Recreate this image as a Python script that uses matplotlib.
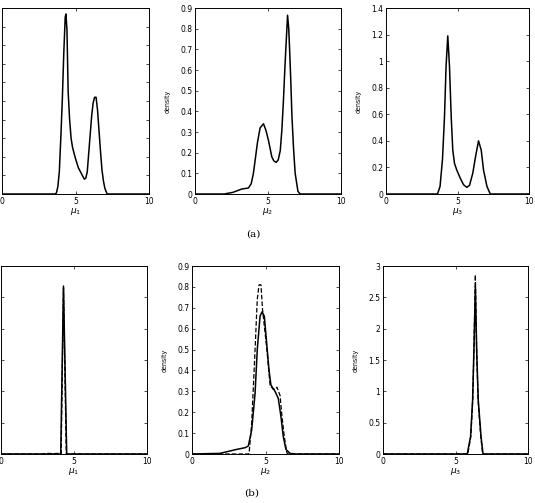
import numpy as np
import matplotlib
matplotlib.use("Agg")
import matplotlib.pyplot as plt

# (a) posterior densities
mu1_a_x = [0, 3.6, 3.7, 3.8, 3.9, 4.0, 4.1, 4.2, 4.3, 4.35, 4.42, 4.5, 4.6, 4.7, 4.8, 5.0, 5.2,
           5.4, 5.6, 5.7, 5.8, 5.9, 6.0, 6.1, 6.2, 6.3, 6.4, 6.5, 6.6, 6.7, 6.8, 6.9, 7.0, 7.15, 10]
mu1_a_y = [0, 0, 0.005, 0.04, 0.12, 0.3, 0.5, 0.75, 0.95, 0.968, 0.88, 0.55, 0.4, 0.3, 0.25, 0.19, 0.14,
           0.11, 0.08, 0.085, 0.12, 0.22, 0.32, 0.42, 0.49, 0.52, 0.52, 0.45, 0.34, 0.23, 0.13, 0.07, 0.03, 0, 0]

mu2_a_x = [0, 2.0, 2.6, 3.2, 3.66, 3.85, 4.0, 4.15, 4.28, 4.46, 4.69, 4.85, 5.03, 5.26, 5.4, 5.56, 5.7,
           5.84, 5.95, 6.06, 6.15, 6.22, 6.34, 6.42, 6.48, 6.56, 6.64, 6.75, 6.86, 7.05, 7.2, 10]
mu2_a_y = [0, 0, 0.008, 0.024, 0.029, 0.05, 0.10, 0.18, 0.25, 0.32, 0.34, 0.31, 0.26, 0.18, 0.16, 0.153, 0.165,
           0.21, 0.31, 0.456, 0.6, 0.70, 0.865, 0.8, 0.70, 0.55, 0.376, 0.22, 0.10, 0.013, 0, 0]

mu3_a_x = [0, 3.6, 3.78, 3.95, 4.09, 4.2, 4.32, 4.44, 4.56, 4.67, 4.79, 4.95, 5.19, 5.42, 5.65, 5.84,
           6.07, 6.26, 6.47, 6.66, 6.82, 7.06, 7.29, 10]
mu3_a_y = [0, 0, 0.057, 0.26, 0.58, 0.96, 1.19, 0.96, 0.58, 0.33, 0.23, 0.18, 0.12, 0.07, 0.05, 0.065,
           0.157, 0.28, 0.40, 0.33, 0.18, 0.057, 0, 0]

# (b) solid and dashed estimates
mu1_b_x = [0, 4.09, 4.28, 4.5, 10]
mu1_b_y = [0, 0, 5.36, 0, 0]
mu1_b_dx = [0, 2.8, 3.2, 3.6, 3.9, 4.12, 4.28, 4.47, 10]
mu1_b_dy = [0, 0, 0.02, 0.01, 0.02, 0, 5.3, 0, 0]

mu2_b_x = [0, 1.9, 3.04, 3.6, 3.83, 4.06, 4.29, 4.44, 4.63, 4.76, 4.92, 5.08, 5.24, 5.37, 5.65, 5.87,
           6.05, 6.21, 6.39, 6.67, 7.0, 10]
mu2_b_y = [0, 0.003, 0.022, 0.03, 0.038, 0.115, 0.29, 0.50, 0.66, 0.68, 0.66, 0.53, 0.40, 0.33, 0.30, 0.266,
           0.18, 0.083, 0.022, 0.003, 0, 0]
mu2_b_dx = [0, 3.88, 4.06, 4.29, 4.44, 4.56, 4.69, 4.8, 5.08, 5.31, 5.52, 5.69, 5.78, 5.99, 6.12, 6.28, 6.44, 6.5, 10]
mu2_b_dy = [0, 0, 0.147, 0.50, 0.74, 0.81, 0.81, 0.69, 0.51, 0.33, 0.31, 0.31, 0.32, 0.28, 0.18, 0.083, 0.01, 0, 0]

mu3_b_x = [0, 5.81, 6.04, 6.18, 6.27, 6.37, 6.46, 6.57, 6.76, 6.9, 10]
mu3_b_y = [0, 0, 0.28, 0.86, 1.66, 2.67, 1.66, 0.86, 0.28, 0, 0]
mu3_b_dx = [0, 5.85, 6.06, 6.19, 6.28, 6.37, 6.45, 6.55, 6.74, 6.87, 10]
mu3_b_dy = [0, 0, 0.28, 0.88, 1.75, 2.86, 1.75, 0.88, 0.28, 0, 0]

fig = plt.figure(figsize=(5.35, 5.03), dpi=100)

W, H = 535.0, 503.0


def make_ax(left, right, top, bottom):
    return fig.add_axes([left / W, 1 - bottom / H, (right - left) / W, (bottom - top) / H])


def style(ax, ymax, ystep, xlab, left_cut=False):
    ax.set_xlim(0, 10)
    ax.set_ylim(0, ymax)
    ax.set_xticks([0, 5, 10])
    ax.set_xticklabels(["0", "5", "10"])
    yt = np.arange(0, ymax + ystep / 2, ystep)
    ax.set_yticks(yt)
    ax.set_yticklabels(["%g" % v for v in yt])
    ax.tick_params(direction="in", length=2.5, width=0.5, top=True, right=True,
                   labelsize=5.5, pad=2)
    for s in ax.spines.values():
        s.set_linewidth(0.7)
    ax.set_xlabel(xlab, fontsize=6.5, labelpad=0)
    if left_cut:
        # the y labels of the left column fall outside the picture
        ax.tick_params(labelleft=False)
    else:
        ax.set_ylabel("density", fontsize=5, labelpad=7, fontstretch="condensed")


# top row
ax = make_ax(2, 149, 8, 194)
ax.plot(mu1_a_x, mu1_a_y, color="black", lw=1.1)
style(ax, 1.0, 0.1, r"$\mu_1$", left_cut=True)

ax = make_ax(195, 341, 8, 194)
ax.plot(mu2_a_x, mu2_a_y, color="black", lw=1.1)
style(ax, 0.9, 0.1, r"$\mu_2$")

ax = make_ax(386, 529, 8, 194)
ax.plot(mu3_a_x, mu3_a_y, color="black", lw=1.1)
style(ax, 1.4, 0.2, r"$\mu_3$")

# bottom row
ax = make_ax(1, 147, 266, 454)
ax.plot(mu1_b_dx, mu1_b_dy, color="black", lw=0.9, ls="--")
ax.plot(mu1_b_x, mu1_b_y, color="black", lw=1.1)
style(ax, 6, 1, r"$\mu_1$", left_cut=True)

ax = make_ax(192, 339, 266, 454)
ax.plot(mu2_b_dx, mu2_b_dy, color="black", lw=0.9, ls="--")
ax.plot(mu2_b_x, mu2_b_y, color="black", lw=1.1)
style(ax, 0.9, 0.1, r"$\mu_2$")

ax = make_ax(383, 528, 266, 454)
ax.plot(mu3_b_dx, mu3_b_dy, color="black", lw=0.9, ls="--")
ax.plot(mu3_b_x, mu3_b_y, color="black", lw=1.1)
style(ax, 3, 0.5, r"$\mu_3$")

fig.text(253 / W, 1 - 234 / H, "(a)", family="DejaVu Serif", fontsize=7.5, ha="center", va="center")
fig.text(252 / W, 1 - 493 / H, "(b)", family="DejaVu Serif", fontsize=7.5, ha="center", va="center")

fig.savefig("out.png", dpi=100)
